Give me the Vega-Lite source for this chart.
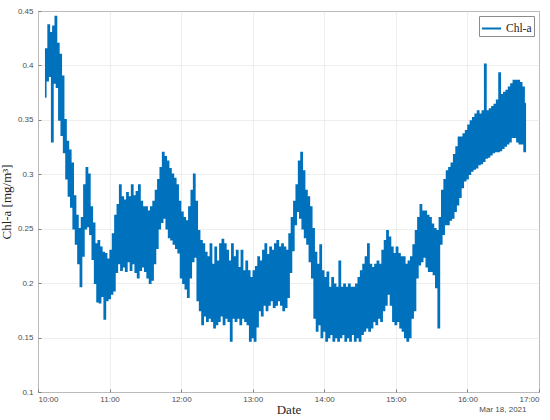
{
  "$schema": "https://vega.github.io/schema/vega-lite/v6.json",
  "description": "Chl-a time series, 18 March 2021.",
  "width": 501,
  "height": 381,
  "autosize": {"type": "none"},
  "padding": {"left": 38, "top": 11, "right": 11, "bottom": 28},
  "background": "white",
  "config": {
    "view": {"stroke": "#808080", "strokeWidth": 1},
    "axis": {
      "domain": false,
      "ticks": true,
      "tickSize": -3,
      "tickColor": "#808080",
      "labelFont": "Liberation Sans",
      "labelFontSize": 8,
      "labelColor": "#4d4d4d",
      "titleFont": "Liberation Serif",
      "titleFontSize": 13,
      "titleFontWeight": "normal",
      "titleColor": "#262626",
      "gridColor": "#e3e3e3",
      "gridWidth": 0.6
    }
  },
  "title": {
    "text": "Mar 18, 2021",
    "orient": "bottom",
    "anchor": "end",
    "font": "Liberation Sans",
    "fontSize": 8,
    "fontWeight": "normal",
    "color": "#4d4d4d",
    "offset": -10,
    "dx": -13
  },
  "data": {
    "values": [
      {"t":"2021-03-18T10:06","v":0.371},{"t":"2021-03-18T10:07","v":0.415},{"t":"2021-03-18T10:08","v":0.386},{"t":"2021-03-18T10:09","v":0.437},{"t":"2021-03-18T10:10","v":0.39},{"t":"2021-03-18T10:11","v":0.43},{"t":"2021-03-18T10:12","v":0.33},{"t":"2021-03-18T10:13","v":0.436},{"t":"2021-03-18T10:14","v":0.384},{"t":"2021-03-18T10:15","v":0.445},
      {"t":"2021-03-18T10:16","v":0.38},{"t":"2021-03-18T10:17","v":0.42},{"t":"2021-03-18T10:18","v":0.35},{"t":"2021-03-18T10:19","v":0.41},{"t":"2021-03-18T10:20","v":0.336},{"t":"2021-03-18T10:21","v":0.39},{"t":"2021-03-18T10:22","v":0.32},{"t":"2021-03-18T10:23","v":0.35},{"t":"2021-03-18T10:24","v":0.296},{"t":"2021-03-18T10:25","v":0.33},
      {"t":"2021-03-18T10:26","v":0.28},{"t":"2021-03-18T10:27","v":0.322},{"t":"2021-03-18T10:28","v":0.27},{"t":"2021-03-18T10:29","v":0.31},{"t":"2021-03-18T10:30","v":0.25},{"t":"2021-03-18T10:31","v":0.28},{"t":"2021-03-18T10:32","v":0.236},{"t":"2021-03-18T10:33","v":0.262},{"t":"2021-03-18T10:34","v":0.218},{"t":"2021-03-18T10:35","v":0.25},
      {"t":"2021-03-18T10:36","v":0.197},{"t":"2021-03-18T10:37","v":0.26},{"t":"2021-03-18T10:38","v":0.225},{"t":"2021-03-18T10:39","v":0.29},{"t":"2021-03-18T10:40","v":0.25},{"t":"2021-03-18T10:41","v":0.306},{"t":"2021-03-18T10:42","v":0.252},{"t":"2021-03-18T10:43","v":0.3},{"t":"2021-03-18T10:44","v":0.245},{"t":"2021-03-18T10:45","v":0.27},
      {"t":"2021-03-18T10:46","v":0.222},{"t":"2021-03-18T10:47","v":0.255},{"t":"2021-03-18T10:48","v":0.2},{"t":"2021-03-18T10:49","v":0.236},{"t":"2021-03-18T10:50","v":0.183},{"t":"2021-03-18T10:51","v":0.239},{"t":"2021-03-18T10:52","v":0.182},{"t":"2021-03-18T10:53","v":0.233},{"t":"2021-03-18T10:54","v":0.188},{"t":"2021-03-18T10:55","v":0.228},
      {"t":"2021-03-18T10:56","v":0.167},{"t":"2021-03-18T10:57","v":0.227},{"t":"2021-03-18T10:58","v":0.184},{"t":"2021-03-18T10:59","v":0.222},{"t":"2021-03-18T11:00","v":0.186},{"t":"2021-03-18T11:01","v":0.23},{"t":"2021-03-18T11:02","v":0.19},{"t":"2021-03-18T11:03","v":0.245},{"t":"2021-03-18T11:04","v":0.193},{"t":"2021-03-18T11:05","v":0.262},
      {"t":"2021-03-18T11:06","v":0.21},{"t":"2021-03-18T11:07","v":0.272},{"t":"2021-03-18T11:08","v":0.218},{"t":"2021-03-18T11:09","v":0.29},{"t":"2021-03-18T11:10","v":0.212},{"t":"2021-03-18T11:11","v":0.279},{"t":"2021-03-18T11:12","v":0.215},{"t":"2021-03-18T11:13","v":0.276},{"t":"2021-03-18T11:14","v":0.211},{"t":"2021-03-18T11:15","v":0.283},
      {"t":"2021-03-18T11:16","v":0.22},{"t":"2021-03-18T11:17","v":0.279},{"t":"2021-03-18T11:18","v":0.212},{"t":"2021-03-18T11:19","v":0.29},{"t":"2021-03-18T11:20","v":0.218},{"t":"2021-03-18T11:21","v":0.28},{"t":"2021-03-18T11:22","v":0.21},{"t":"2021-03-18T11:23","v":0.284},{"t":"2021-03-18T11:24","v":0.205},{"t":"2021-03-18T11:25","v":0.29},
      {"t":"2021-03-18T11:26","v":0.212},{"t":"2021-03-18T11:27","v":0.275},{"t":"2021-03-18T11:28","v":0.215},{"t":"2021-03-18T11:29","v":0.27},{"t":"2021-03-18T11:30","v":0.211},{"t":"2021-03-18T11:31","v":0.27},{"t":"2021-03-18T11:32","v":0.205},{"t":"2021-03-18T11:33","v":0.266},{"t":"2021-03-18T11:34","v":0.2},{"t":"2021-03-18T11:35","v":0.27},
      {"t":"2021-03-18T11:36","v":0.203},{"t":"2021-03-18T11:37","v":0.275},{"t":"2021-03-18T11:38","v":0.218},{"t":"2021-03-18T11:39","v":0.285},{"t":"2021-03-18T11:40","v":0.232},{"t":"2021-03-18T11:41","v":0.295},{"t":"2021-03-18T11:42","v":0.25},{"t":"2021-03-18T11:43","v":0.306},{"t":"2021-03-18T11:44","v":0.256},{"t":"2021-03-18T11:45","v":0.32},
      {"t":"2021-03-18T11:46","v":0.26},{"t":"2021-03-18T11:47","v":0.316},{"t":"2021-03-18T11:48","v":0.25},{"t":"2021-03-18T11:49","v":0.312},{"t":"2021-03-18T11:50","v":0.242},{"t":"2021-03-18T11:51","v":0.305},{"t":"2021-03-18T11:52","v":0.24},{"t":"2021-03-18T11:53","v":0.3},{"t":"2021-03-18T11:54","v":0.236},{"t":"2021-03-18T11:55","v":0.296},
      {"t":"2021-03-18T11:56","v":0.232},{"t":"2021-03-18T11:57","v":0.29},{"t":"2021-03-18T11:58","v":0.228},{"t":"2021-03-18T11:59","v":0.275},{"t":"2021-03-18T12:00","v":0.205},{"t":"2021-03-18T12:01","v":0.265},{"t":"2021-03-18T12:02","v":0.2},{"t":"2021-03-18T12:03","v":0.26},{"t":"2021-03-18T12:04","v":0.195},{"t":"2021-03-18T12:05","v":0.257},
      {"t":"2021-03-18T12:06","v":0.187},{"t":"2021-03-18T12:07","v":0.27},{"t":"2021-03-18T12:08","v":0.205},{"t":"2021-03-18T12:09","v":0.285},{"t":"2021-03-18T12:10","v":0.22},{"t":"2021-03-18T12:11","v":0.3},{"t":"2021-03-18T12:12","v":0.224},{"t":"2021-03-18T12:13","v":0.275},{"t":"2021-03-18T12:14","v":0.184},{"t":"2021-03-18T12:15","v":0.248},
      {"t":"2021-03-18T12:16","v":0.175},{"t":"2021-03-18T12:17","v":0.239},{"t":"2021-03-18T12:18","v":0.162},{"t":"2021-03-18T12:19","v":0.236},{"t":"2021-03-18T12:20","v":0.17},{"t":"2021-03-18T12:21","v":0.228},{"t":"2021-03-18T12:22","v":0.165},{"t":"2021-03-18T12:23","v":0.224},{"t":"2021-03-18T12:24","v":0.168},{"t":"2021-03-18T12:25","v":0.236},
      {"t":"2021-03-18T12:26","v":0.165},{"t":"2021-03-18T12:27","v":0.217},{"t":"2021-03-18T12:28","v":0.159},{"t":"2021-03-18T12:29","v":0.233},{"t":"2021-03-18T12:30","v":0.162},{"t":"2021-03-18T12:31","v":0.22},{"t":"2021-03-18T12:32","v":0.165},{"t":"2021-03-18T12:33","v":0.236},{"t":"2021-03-18T12:34","v":0.17},{"t":"2021-03-18T12:35","v":0.24},
      {"t":"2021-03-18T12:36","v":0.162},{"t":"2021-03-18T12:37","v":0.236},{"t":"2021-03-18T12:38","v":0.168},{"t":"2021-03-18T12:39","v":0.23},{"t":"2021-03-18T12:40","v":0.165},{"t":"2021-03-18T12:41","v":0.22},{"t":"2021-03-18T12:42","v":0.147},{"t":"2021-03-18T12:43","v":0.236},{"t":"2021-03-18T12:44","v":0.168},{"t":"2021-03-18T12:45","v":0.224},
      {"t":"2021-03-18T12:46","v":0.165},{"t":"2021-03-18T12:47","v":0.23},{"t":"2021-03-18T12:48","v":0.168},{"t":"2021-03-18T12:49","v":0.214},{"t":"2021-03-18T12:50","v":0.162},{"t":"2021-03-18T12:51","v":0.23},{"t":"2021-03-18T12:52","v":0.168},{"t":"2021-03-18T12:53","v":0.211},{"t":"2021-03-18T12:54","v":0.165},{"t":"2021-03-18T12:55","v":0.22},
      {"t":"2021-03-18T12:56","v":0.162},{"t":"2021-03-18T12:57","v":0.211},{"t":"2021-03-18T12:58","v":0.147},{"t":"2021-03-18T12:59","v":0.205},{"t":"2021-03-18T13:00","v":0.15},{"t":"2021-03-18T13:01","v":0.211},{"t":"2021-03-18T13:02","v":0.147},{"t":"2021-03-18T13:03","v":0.215},{"t":"2021-03-18T13:04","v":0.16},{"t":"2021-03-18T13:05","v":0.224},
      {"t":"2021-03-18T13:06","v":0.175},{"t":"2021-03-18T13:07","v":0.22},{"t":"2021-03-18T13:08","v":0.17},{"t":"2021-03-18T13:09","v":0.23},{"t":"2021-03-18T13:10","v":0.18},{"t":"2021-03-18T13:11","v":0.236},{"t":"2021-03-18T13:12","v":0.175},{"t":"2021-03-18T13:13","v":0.226},{"t":"2021-03-18T13:14","v":0.18},{"t":"2021-03-18T13:15","v":0.233},
      {"t":"2021-03-18T13:16","v":0.184},{"t":"2021-03-18T13:17","v":0.23},{"t":"2021-03-18T13:18","v":0.178},{"t":"2021-03-18T13:19","v":0.236},{"t":"2021-03-18T13:20","v":0.18},{"t":"2021-03-18T13:21","v":0.239},{"t":"2021-03-18T13:22","v":0.184},{"t":"2021-03-18T13:23","v":0.233},{"t":"2021-03-18T13:24","v":0.18},{"t":"2021-03-18T13:25","v":0.236},
      {"t":"2021-03-18T13:26","v":0.175},{"t":"2021-03-18T13:27","v":0.233},{"t":"2021-03-18T13:28","v":0.178},{"t":"2021-03-18T13:29","v":0.23},{"t":"2021-03-18T13:30","v":0.187},{"t":"2021-03-18T13:31","v":0.245},{"t":"2021-03-18T13:32","v":0.21},{"t":"2021-03-18T13:33","v":0.26},{"t":"2021-03-18T13:34","v":0.23},{"t":"2021-03-18T13:35","v":0.275},
      {"t":"2021-03-18T13:36","v":0.254},{"t":"2021-03-18T13:37","v":0.29},{"t":"2021-03-18T13:38","v":0.266},{"t":"2021-03-18T13:39","v":0.312},{"t":"2021-03-18T13:40","v":0.26},{"t":"2021-03-18T13:41","v":0.32},{"t":"2021-03-18T13:42","v":0.25},{"t":"2021-03-18T13:43","v":0.303},{"t":"2021-03-18T13:44","v":0.242},{"t":"2021-03-18T13:45","v":0.285},
      {"t":"2021-03-18T13:46","v":0.236},{"t":"2021-03-18T13:47","v":0.279},{"t":"2021-03-18T13:48","v":0.22},{"t":"2021-03-18T13:49","v":0.27},{"t":"2021-03-18T13:50","v":0.205},{"t":"2021-03-18T13:51","v":0.25},{"t":"2021-03-18T13:52","v":0.168},{"t":"2021-03-18T13:53","v":0.228},{"t":"2021-03-18T13:54","v":0.156},{"t":"2021-03-18T13:55","v":0.217},
      {"t":"2021-03-18T13:56","v":0.162},{"t":"2021-03-18T13:57","v":0.235},{"t":"2021-03-18T13:58","v":0.15},{"t":"2021-03-18T13:59","v":0.211},{"t":"2021-03-18T14:00","v":0.156},{"t":"2021-03-18T14:01","v":0.205},{"t":"2021-03-18T14:02","v":0.147},{"t":"2021-03-18T14:03","v":0.21},{"t":"2021-03-18T14:04","v":0.15},{"t":"2021-03-18T14:05","v":0.196},
      {"t":"2021-03-18T14:06","v":0.153},{"t":"2021-03-18T14:07","v":0.205},{"t":"2021-03-18T14:08","v":0.147},{"t":"2021-03-18T14:09","v":0.199},{"t":"2021-03-18T14:10","v":0.15},{"t":"2021-03-18T14:11","v":0.196},{"t":"2021-03-18T14:12","v":0.147},{"t":"2021-03-18T14:13","v":0.22},{"t":"2021-03-18T14:14","v":0.15},{"t":"2021-03-18T14:15","v":0.196},
      {"t":"2021-03-18T14:16","v":0.153},{"t":"2021-03-18T14:17","v":0.199},{"t":"2021-03-18T14:18","v":0.147},{"t":"2021-03-18T14:19","v":0.196},{"t":"2021-03-18T14:20","v":0.15},{"t":"2021-03-18T14:21","v":0.199},{"t":"2021-03-18T14:22","v":0.147},{"t":"2021-03-18T14:23","v":0.196},{"t":"2021-03-18T14:24","v":0.153},{"t":"2021-03-18T14:25","v":0.196},
      {"t":"2021-03-18T14:26","v":0.147},{"t":"2021-03-18T14:27","v":0.199},{"t":"2021-03-18T14:28","v":0.15},{"t":"2021-03-18T14:29","v":0.205},{"t":"2021-03-18T14:30","v":0.147},{"t":"2021-03-18T14:31","v":0.211},{"t":"2021-03-18T14:32","v":0.153},{"t":"2021-03-18T14:33","v":0.217},{"t":"2021-03-18T14:34","v":0.156},{"t":"2021-03-18T14:35","v":0.224},
      {"t":"2021-03-18T14:36","v":0.159},{"t":"2021-03-18T14:37","v":0.236},{"t":"2021-03-18T14:38","v":0.156},{"t":"2021-03-18T14:39","v":0.217},{"t":"2021-03-18T14:40","v":0.159},{"t":"2021-03-18T14:41","v":0.214},{"t":"2021-03-18T14:42","v":0.165},{"t":"2021-03-18T14:43","v":0.217},{"t":"2021-03-18T14:44","v":0.162},{"t":"2021-03-18T14:45","v":0.22},
      {"t":"2021-03-18T14:46","v":0.168},{"t":"2021-03-18T14:47","v":0.217},{"t":"2021-03-18T14:48","v":0.165},{"t":"2021-03-18T14:49","v":0.23},{"t":"2021-03-18T14:50","v":0.175},{"t":"2021-03-18T14:51","v":0.239},{"t":"2021-03-18T14:52","v":0.18},{"t":"2021-03-18T14:53","v":0.248},{"t":"2021-03-18T14:54","v":0.19},{"t":"2021-03-18T14:55","v":0.242},
      {"t":"2021-03-18T14:56","v":0.18},{"t":"2021-03-18T14:57","v":0.233},{"t":"2021-03-18T14:58","v":0.165},{"t":"2021-03-18T14:59","v":0.227},{"t":"2021-03-18T15:00","v":0.162},{"t":"2021-03-18T15:01","v":0.233},{"t":"2021-03-18T15:02","v":0.165},{"t":"2021-03-18T15:03","v":0.227},{"t":"2021-03-18T15:04","v":0.159},{"t":"2021-03-18T15:05","v":0.224},
      {"t":"2021-03-18T15:06","v":0.156},{"t":"2021-03-18T15:07","v":0.224},{"t":"2021-03-18T15:08","v":0.15},{"t":"2021-03-18T15:09","v":0.217},{"t":"2021-03-18T15:10","v":0.147},{"t":"2021-03-18T15:11","v":0.22},{"t":"2021-03-18T15:12","v":0.15},{"t":"2021-03-18T15:13","v":0.224},{"t":"2021-03-18T15:14","v":0.168},{"t":"2021-03-18T15:15","v":0.235},
      {"t":"2021-03-18T15:16","v":0.175},{"t":"2021-03-18T15:17","v":0.248},{"t":"2021-03-18T15:18","v":0.205},{"t":"2021-03-18T15:19","v":0.26},{"t":"2021-03-18T15:20","v":0.217},{"t":"2021-03-18T15:21","v":0.272},{"t":"2021-03-18T15:22","v":0.22},{"t":"2021-03-18T15:23","v":0.266},{"t":"2021-03-18T15:24","v":0.224},{"t":"2021-03-18T15:25","v":0.266},
      {"t":"2021-03-18T15:26","v":0.215},{"t":"2021-03-18T15:27","v":0.262},{"t":"2021-03-18T15:28","v":0.211},{"t":"2021-03-18T15:29","v":0.26},{"t":"2021-03-18T15:30","v":0.211},{"t":"2021-03-18T15:31","v":0.254},{"t":"2021-03-18T15:32","v":0.208},{"t":"2021-03-18T15:33","v":0.25},{"t":"2021-03-18T15:34","v":0.196},{"t":"2021-03-18T15:35","v":0.248},
      {"t":"2021-03-18T15:36","v":0.159},{"t":"2021-03-18T15:37","v":0.26},{"t":"2021-03-18T15:38","v":0.236},{"t":"2021-03-18T15:39","v":0.285},{"t":"2021-03-18T15:40","v":0.245},{"t":"2021-03-18T15:41","v":0.295},{"t":"2021-03-18T15:42","v":0.254},{"t":"2021-03-18T15:43","v":0.303},{"t":"2021-03-18T15:44","v":0.254},{"t":"2021-03-18T15:45","v":0.306},
      {"t":"2021-03-18T15:46","v":0.258},{"t":"2021-03-18T15:47","v":0.31},{"t":"2021-03-18T15:48","v":0.26},{"t":"2021-03-18T15:49","v":0.318},{"t":"2021-03-18T15:50","v":0.266},{"t":"2021-03-18T15:51","v":0.325},{"t":"2021-03-18T15:52","v":0.272},{"t":"2021-03-18T15:53","v":0.334},{"t":"2021-03-18T15:54","v":0.279},{"t":"2021-03-18T15:55","v":0.334},
      {"t":"2021-03-18T15:56","v":0.288},{"t":"2021-03-18T15:57","v":0.337},{"t":"2021-03-18T15:58","v":0.294},{"t":"2021-03-18T15:59","v":0.34},{"t":"2021-03-18T16:00","v":0.296},{"t":"2021-03-18T16:01","v":0.345},{"t":"2021-03-18T16:02","v":0.3},{"t":"2021-03-18T16:03","v":0.349},{"t":"2021-03-18T16:04","v":0.303},{"t":"2021-03-18T16:05","v":0.352},
      {"t":"2021-03-18T16:06","v":0.305},{"t":"2021-03-18T16:07","v":0.355},{"t":"2021-03-18T16:08","v":0.306},{"t":"2021-03-18T16:09","v":0.358},{"t":"2021-03-18T16:10","v":0.309},{"t":"2021-03-18T16:11","v":0.355},{"t":"2021-03-18T16:12","v":0.31},{"t":"2021-03-18T16:13","v":0.358},{"t":"2021-03-18T16:14","v":0.312},{"t":"2021-03-18T16:15","v":0.401},
      {"t":"2021-03-18T16:16","v":0.315},{"t":"2021-03-18T16:17","v":0.358},{"t":"2021-03-18T16:18","v":0.316},{"t":"2021-03-18T16:19","v":0.36},{"t":"2021-03-18T16:20","v":0.318},{"t":"2021-03-18T16:21","v":0.362},{"t":"2021-03-18T16:22","v":0.32},{"t":"2021-03-18T16:23","v":0.364},{"t":"2021-03-18T16:24","v":0.321},{"t":"2021-03-18T16:25","v":0.368},
      {"t":"2021-03-18T16:26","v":0.321},{"t":"2021-03-18T16:27","v":0.393},{"t":"2021-03-18T16:28","v":0.322},{"t":"2021-03-18T16:29","v":0.373},{"t":"2021-03-18T16:30","v":0.324},{"t":"2021-03-18T16:31","v":0.375},{"t":"2021-03-18T16:32","v":0.326},{"t":"2021-03-18T16:33","v":0.377},{"t":"2021-03-18T16:34","v":0.328},{"t":"2021-03-18T16:35","v":0.38},
      {"t":"2021-03-18T16:36","v":0.33},{"t":"2021-03-18T16:37","v":0.383},{"t":"2021-03-18T16:38","v":0.334},{"t":"2021-03-18T16:39","v":0.386},{"t":"2021-03-18T16:40","v":0.334},{"t":"2021-03-18T16:41","v":0.386},{"t":"2021-03-18T16:42","v":0.33},{"t":"2021-03-18T16:43","v":0.386},{"t":"2021-03-18T16:44","v":0.328},{"t":"2021-03-18T16:45","v":0.384},
      {"t":"2021-03-18T16:46","v":0.328},{"t":"2021-03-18T16:47","v":0.38},{"t":"2021-03-18T16:48","v":0.321},{"t":"2021-03-18T16:49","v":0.365}
    ]
  },
  "mark": {"type": "line", "strokeWidth": 1.6, "interpolate": "step"},
  "encoding": {
    "x": {
      "field": "t",
      "type": "temporal",
      "scale": {"domain": [{"year": 2021, "month": 3, "date": 18, "hours": 10}, {"year": 2021, "month": 3, "date": 18, "hours": 17}]},
      "axis": {
        "title": "Date",
        "format": "%H:%M",
        "values": [
          {"year": 2021, "month": 3, "date": 18, "hours": 10},
          {"year": 2021, "month": 3, "date": 18, "hours": 11},
          {"year": 2021, "month": 3, "date": 18, "hours": 12},
          {"year": 2021, "month": 3, "date": 18, "hours": 13},
          {"year": 2021, "month": 3, "date": 18, "hours": 14},
          {"year": 2021, "month": 3, "date": 18, "hours": 15},
          {"year": 2021, "month": 3, "date": 18, "hours": 16},
          {"year": 2021, "month": 3, "date": 18, "hours": 17}
        ],
        "labelPadding": 6,
        "titlePadding": 0
      }
    },
    "y": {
      "field": "v",
      "type": "quantitative",
      "scale": {"domain": [0.1, 0.45], "nice": false, "zero": false},
      "axis": {
        "title": "Chl-a [mg/m³]",
        "values": [0.1, 0.15, 0.2, 0.25, 0.3, 0.35, 0.4, 0.45],
        "format": ".2~f",
        "labelPadding": 8,
        "titlePadding": 4
      }
    },
    "color": {
      "datum": "Chl-a",
      "type": "nominal",
      "scale": {"range": ["#0072BD"]},
      "legend": {
        "title": null,
        "orient": "top-right",
        "offset": 5,
        "padding": 2,
        "fillColor": "white",
        "strokeColor": "#8c8c8c",
        "symbolType": "stroke",
        "symbolSize": 361,
        "symbolStrokeWidth": 2,
        "labelFont": "Liberation Serif",
        "labelFontSize": 11.5,
        "labelColor": "#262626"
      }
    }
  }
}
